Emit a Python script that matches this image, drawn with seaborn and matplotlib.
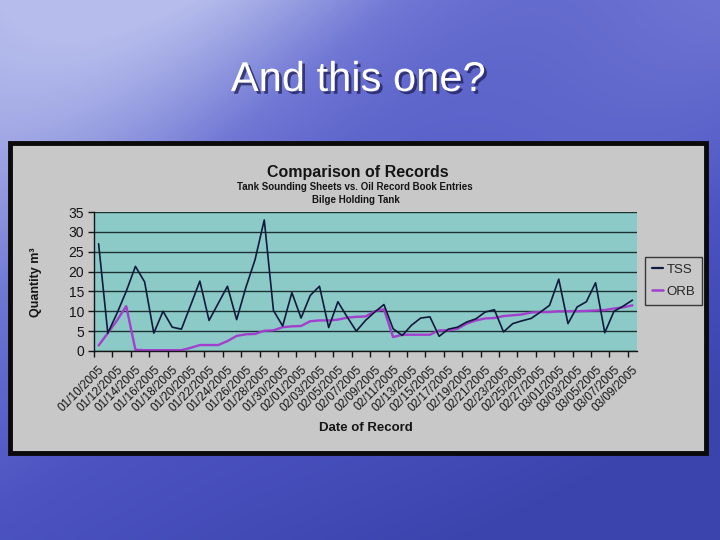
import matplotlib
matplotlib.use("Agg")
import matplotlib.pyplot as plt
import matplotlib.patheffects as pe
import numpy as np
import pandas as pd
import seaborn as sns
from matplotlib.colors import LinearSegmentedColormap
from matplotlib.lines import Line2D
from matplotlib.patches import Rectangle

# one record per day, 01/10/2005 .. 03/09/2005
dates = pd.date_range("2005-01-10", "2005-03-09").strftime("%m/%d/%Y").tolist()

# Tank Sounding Sheets (m3)
tss = [27, 4.5, 9.5, 15, 21.3, 17.4, 4.5, 10, 6, 5.5,
       11.5, 17.6, 7.7, 12, 16.3, 7.9, 16, 23, 33, 10.2,
       6.3, 14.7, 8.3, 14, 16.3, 5.9, 12.4, 8.6, 5, 7.7,
       9.8, 11.7, 5.6, 3.9, 6.5, 8.3, 8.6, 3.7, 5.5, 6,
       7.3, 8.1, 9.8, 10.4, 4.8, 6.9, 7.6, 8.2, 9.8, 11.5,
       18.1, 6.9, 11.1, 12.4, 17.2, 4.6, 10, 11.3, 12.8]

# Oil Record Book entries (m3)
orb = [1.4, 4.5, 7.7, 11.3, 0.3, 0.2, 0.2, 0.2, 0.2, 0.2,
       0.8, 1.5, 1.5, 1.5, 2.5, 3.8, 4.2, 4.3, 5.1, 5.2,
       6.0, 6.2, 6.3, 7.5, 7.7, 7.7, 7.9, 8.4, 8.6, 8.7,
       10.0, 10.5, 3.5, 4.1, 4.1, 4.1, 4.1, 5.2, 5.2, 5.6,
       6.9, 7.7, 8.2, 8.3, 8.8, 9.0, 9.2, 9.7, 9.8, 9.8,
       10.0, 10.0, 10.0, 10.1, 10.2, 10.3, 10.7, 11.0, 11.5]

series_names = ["TSS", "ORB"]
y_ticks = [0, 5, 10, 15, 20, 25, 30, 35]

navy = "#101a3c"
purple = "#a23fcc"
teal = "#8ccac8"
panel_grey = "#c8c8c8"
ink = "#151515"

sns.set_theme(style="white")
plt.rcParams["font.family"] = ["Liberation Sans", "DejaVu Sans"]

W, H = 720, 540
fig = plt.figure(figsize=(7.2, 5.4), dpi=100)

# slide background: blue sky gradient
bg = fig.add_axes([0, 0, 1, 1], zorder=-10)
yy, xx = np.mgrid[0:1:270j, 0:1:360j]
field = np.clip(0.45 * xx + 0.7 * yy - 0.12 * np.sin(7 * xx + 4 * yy) * (1 - yy), 0, 1)
sky = LinearSegmentedColormap.from_list("sky", ["#b6bdec", "#7077d4", "#4d54c2", "#3b43ad"])
bg.imshow(field, cmap=sky, aspect="auto", extent=[0, 1, 0, 1], origin="upper")
bg.axis("off")

fig.text(358 / W, 1 - 80 / H, "And this one?", ha="center", va="center",
         fontsize=30, color="white", zorder=2,
         path_effects=[pe.withSimplePatchShadow(offset=(2, -2), shadow_rgbFace="#1a1a50", alpha=0.7)])

# grey chart panel with black frame
fig.patches.append(Rectangle((10 / W, 1 - 453 / H), 696 / W, 310 / H, transform=fig.transFigure,
                             facecolor=panel_grey, edgecolor="#0a0a0a", linewidth=3.5, zorder=1))

ax = fig.add_axes([94 / W, 1 - 351 / H, 543 / W, 139 / H], zorder=5)

df = pd.DataFrame({
    "Date": dates * 2,
    "Quantity": tss + orb,
    "Series": ["TSS"] * len(tss) + ["ORB"] * len(orb),
})
sns.lineplot(data=df, x="Date", y="Quantity", hue="Series", hue_order=["ORB", "TSS"],
             palette={"TSS": navy, "ORB": purple}, sort=False, legend=False, ax=ax)
for line in ax.lines:
    if line.get_color() == purple:
        line.set_linewidth(1.7)
    else:
        line.set_linewidth(1.2)

ax.set_facecolor(teal)
ax.set_xlim(-0.5, len(dates) - 0.5)
ax.set_ylim(0, 35)
ax.set_yticks(y_ticks)
ax.yaxis.grid(True, color="#1c3232", linewidth=1.0)
ax.xaxis.grid(False)
for side in ["top", "right"]:
    ax.spines[side].set_visible(False)
for side in ["left", "bottom"]:
    ax.spines[side].set_color(ink)
    ax.spines[side].set_linewidth(1.0)

ax.set_xticks(range(0, len(dates), 2))
ax.set_xticklabels(dates[::2], rotation=45, ha="right", rotation_mode="anchor",
                   fontsize=8.5, color=ink)
ax.set_xticks(np.arange(-0.5, len(dates) - 1, 2), minor=True)
ax.tick_params(axis="x", which="major", length=0, pad=9)
ax.tick_params(axis="x", which="minor", length=4, width=1, color=ink, direction="out", bottom=True)
ax.tick_params(axis="y", length=4, width=1, color=ink, direction="out", left=True,
               labelsize=10, labelcolor=ink, pad=3)
ax.set_xlabel("")
ax.set_ylabel("")

fig.text(358 / W, 1 - 172 / H, "Comparison of Records", ha="center", va="center",
         fontsize=11.5, fontweight="bold", color=ink, zorder=6)
fig.text(355 / W, 1 - 187 / H, "Tank Sounding Sheets vs. Oil Record Book Entries",
         ha="center", va="center", fontsize=7, fontweight="bold", color=ink, zorder=6)
fig.text(356 / W, 1 - 200 / H, "Bilge Holding Tank", ha="center", va="center",
         fontsize=7, fontweight="bold", color=ink, zorder=6)
fig.text(36 / W, 1 - 282 / H, "Quantity m³", ha="center", va="center", rotation=90,
         fontsize=9, fontweight="bold", color=ink, zorder=6)
fig.text(366 / W, 1 - 428 / H, "Date of Record", ha="center", va="center",
         fontsize=9.5, fontweight="bold", color=ink, zorder=6)

handles = [Line2D([], [], color=navy, lw=1.6), Line2D([], [], color=purple, lw=1.8)]
leg = ax.legend(handles, series_names, loc="upper left",
                bbox_to_anchor=(645 / W, 1 - 257 / H), bbox_transform=fig.transFigure,
                fontsize=9.5, frameon=True, fancybox=False, edgecolor=ink,
                facecolor=panel_grey, handlelength=0.9, handletextpad=0.25,
                borderpad=0.5, labelspacing=0.75, borderaxespad=0)
leg.get_frame().set_linewidth(1.0)

fig.savefig("out.png", dpi=100)
